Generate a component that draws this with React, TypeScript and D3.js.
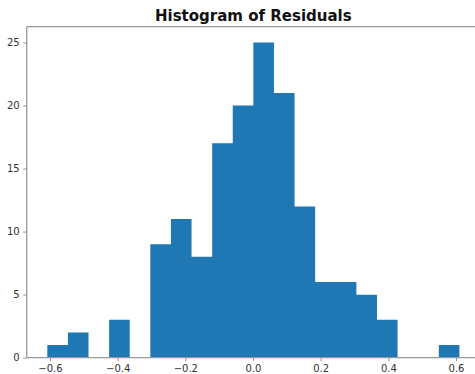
import React, { useEffect, useRef } from 'react';
import * as d3 from 'd3';

// bin edges: 20 equal bins over the residual range
const binStart = -0.608;
const binWidth = 0.0609;
const counts = [1, 2, 0, 3, 0, 9, 11, 8, 17, 20, 25, 21, 12, 6, 6, 5, 3, 0, 0, 1];
const xTicks = [-0.6, -0.4, -0.2, 0.0, 0.2, 0.4, 0.6];
const yTicks = [0, 5, 10, 15, 20, 25];
const title = 'Histogram of Residuals';

const App = () => {
  const ref = useRef<SVGSVGElement | null>(null);

  useEffect(() => {
    document.body.style.margin = '0';
    if (!ref.current) return;
    const width = 475;
    const height = 374;
    const m = { left: 26.7, top: 26.7, right: 480, bottom: 357.7 };

    const svg = d3.select(ref.current);
    svg.selectAll('*').remove();

    const bins = counts.map((c, i) => ({
      x0: binStart + i * binWidth,
      x1: binStart + (i + 1) * binWidth,
      count: c,
    }));

    const lo = bins[0].x0;
    const hi = bins[bins.length - 1].x1;
    const pad = (hi - lo) * 0.05;
    const x = d3.scaleLinear().domain([lo - pad, hi + pad]).range([m.left, m.right]);
    const yMax = d3.max(counts)! * 1.05;
    const y = d3.scaleLinear().domain([0, yMax]).range([m.bottom, m.top]);

    svg.append('rect').attr('width', width).attr('height', height).attr('fill', '#fff');

    // bars as one stepped area, so neighbouring bars show no seams
    const steps = [...bins.map(b => ({ v: b.x0, c: b.count })), { v: hi, c: 0 }];
    const area = d3.area<{ v: number; c: number }>()
      .x(d => x(d.v))
      .y0(y(0))
      .y1(d => y(d.c))
      .curve(d3.curveStepAfter);
    svg.append('path')
      .datum(steps)
      .attr('d', area)
      .attr('fill', '#1f77b4');

    const fmt = (v: number) => d3.format('.1f')(v).replace('-', '\u2212');

    const xAxis = d3.axisBottom(x).tickValues(xTicks).tickSize(3.5).tickPadding(3.5).tickFormat(d => fmt(+d));
    const gx = svg.append('g').attr('transform', `translate(0,${m.bottom})`).call(xAxis);
    const yAxis = d3.axisLeft(y).tickValues(yTicks).tickSize(3.5).tickPadding(3.5).tickFormat(d => String(d));
    const gy = svg.append('g').attr('transform', `translate(${m.left},0)`).call(yAxis);

    [gx, gy].forEach(g => {
      g.select('.domain').remove();
      g.selectAll('line').attr('stroke', '#777').attr('stroke-width', 0.8);
      g.selectAll('text')
        .attr('fill', '#333')
        .style('font-family', 'DejaVu Sans, sans-serif')
        .style('font-size', '10px');
    });

    // spines
    const spine = (x1: number, y1: number, x2: number, y2: number) =>
      svg.append('line')
        .attr('x1', x1).attr('y1', y1).attr('x2', x2).attr('y2', y2)
        .attr('stroke', '#999').attr('stroke-width', 1.3);
    spine(m.left, m.top, m.left, m.bottom);
    spine(m.left, m.bottom, m.right, m.bottom);
    spine(m.left, m.top, m.right, m.top);
    spine(m.right, m.top, m.right, m.bottom);

    svg.append('text')
      .attr('x', (m.left + m.right) / 2)
      .attr('y', 20.5)
      .attr('text-anchor', 'middle')
      .style('font-family', 'DejaVu Sans, sans-serif')
      .style('font-size', '15px')
      .style('font-weight', 'bold')
      .attr('fill', '#111')
      .text(title);
  }, []);

  return <svg ref={ref} width={475} height={374} style={{ display: 'block' }} />;
};

export default App;
